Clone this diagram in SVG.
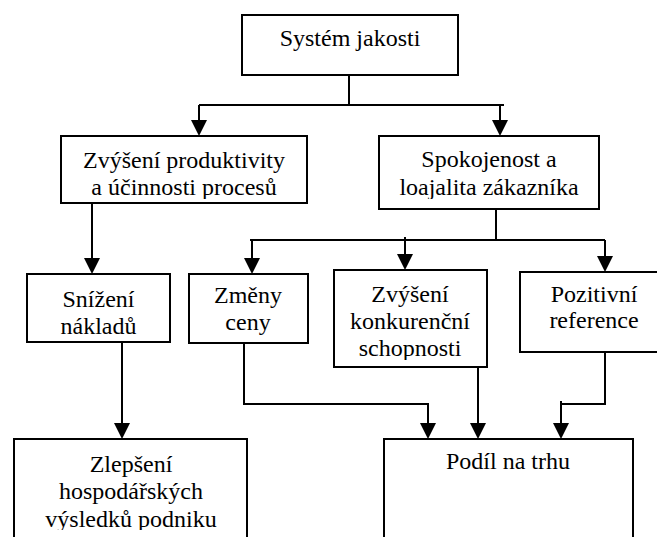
<svg xmlns="http://www.w3.org/2000/svg" width="657" height="537" viewBox="0 0 657 537" font-family="Liberation Serif">
  <style>
    .box { fill: #ffffff; stroke: #000000; stroke-width: 2; }
    .lbl { font-family: 'Liberation Serif'; font-size: 24px; fill: #000000; text-anchor: middle; }
    .wire { fill: none; stroke: #000000; stroke-width: 2; }
    .head { fill: #000000; stroke: none; }
  </style>
  <defs>
    <!-- text areas of the boxes; lines that run past them are cut off -->
    <clipPath id="clipLeft"><rect x="61" y="136" width="246" height="63"/></clipPath>
    <clipPath id="clipRight"><rect x="379" y="136" width="220" height="63"/></clipPath>
    <clipPath id="clipComp"><rect x="334" y="270" width="153" height="90"/></clipPath>
    <clipPath id="clipResult"><rect x="14" y="439" width="233" height="91"/></clipPath>
  </defs>
  <rect width="657" height="537" fill="#ffffff"/>

  <g id="connectors">
    <polyline class="wire" points="349,75 349,105"/>
    <polyline class="wire" points="199,105 504,105"/>
    <polyline class="wire" points="199,105 199,122"/>
    <polygon class="head" points="191,120 207,120 199,136"/>
    <polyline class="wire" points="500,105 500,122"/>
    <polygon class="head" points="492,120 508,120 500,136"/>

    <polyline class="wire" points="92,203 92,260"/>
    <polygon class="head" points="84,258 100,258 92,274"/>

    <polyline class="wire" points="496,209 496,240"/>
    <polyline class="wire" points="250,240 605,240"/>
    <polyline class="wire" points="252,240 252,260"/>
    <polygon class="head" points="244,258 260,258 252,274"/>
    <polyline class="wire" points="405,237 405,256"/>
    <polygon class="head" points="397,254 413,254 405,270"/>
    <polyline class="wire" points="605,240 605,258"/>
    <polygon class="head" points="597,256 613,256 605,272"/>

    <polyline class="wire" points="122,342 122,425"/>
    <polygon class="head" points="114,423 130,423 122,439"/>
    <polyline class="wire" points="244,343 244,404 428,404 428,425"/>
    <polygon class="head" points="420,423 436,423 428,439"/>
    <polyline class="wire" points="478,367 478,425"/>
    <polygon class="head" points="470,423 486,423 478,439"/>
    <polyline class="wire" points="605,352 605,404 561,404"/>
    <polyline class="wire" points="561,401 561,425"/>
    <polygon class="head" points="553,423 569,423 561,439"/>
  </g>

  <g id="quality-system">
    <rect class="box" x="242" y="15" width="216" height="60"/>
    <text class="lbl" x="350" y="46">Systém jakosti</text>
  </g>

  <g id="productivity">
    <rect class="box" x="61" y="136" width="246" height="67"/>
    <g clip-path="url(#clipLeft)">
      <text class="lbl" x="184" y="168">Zvýšení produktivity</text>
      <text class="lbl" x="184" y="195">a účinnosti procesů</text>
    </g>
  </g>

  <g id="satisfaction">
    <rect class="box" x="379" y="136" width="220" height="73"/>
    <g clip-path="url(#clipRight)">
      <text class="lbl" x="489" y="167">Spokojenost a</text>
      <text class="lbl" x="489" y="195">loajalita zákazníka</text>
    </g>
  </g>

  <g id="cost-reduction">
    <rect class="box" x="27" y="274" width="143" height="68"/>
    <text class="lbl" x="98.5" y="307">Snížení</text>
    <text class="lbl" x="98.5" y="334">nákladů</text>
  </g>

  <g id="price-changes">
    <rect class="box" x="189" y="274" width="119" height="69"/>
    <text class="lbl" x="248" y="303">Změny</text>
    <text class="lbl" x="248" y="330">ceny</text>
  </g>

  <g id="competitiveness">
    <rect class="box" x="334" y="270" width="153" height="97"/>
    <g clip-path="url(#clipComp)">
      <text class="lbl" x="410" y="302">Zvýšení</text>
      <text class="lbl" x="410" y="329">konkurenční</text>
      <text class="lbl" x="410" y="356">schopnosti</text>
    </g>
  </g>

  <g id="references">
    <rect class="box" x="520" y="272" width="148" height="80"/>
    <text class="lbl" x="594" y="302">Pozitivní</text>
    <text class="lbl" x="594" y="328">reference</text>
  </g>

  <g id="economic-results">
    <rect class="box" x="14" y="439" width="233" height="110"/>
    <g clip-path="url(#clipResult)">
      <text class="lbl" x="131" y="472">Zlepšení</text>
      <text class="lbl" x="131" y="499">hospodářských</text>
      <text class="lbl" x="131" y="527">výsledků podniku</text>
    </g>
  </g>

  <g id="market-share">
    <rect class="box" x="384" y="439" width="249" height="110"/>
    <text class="lbl" x="508" y="469">Podíl na trhu</text>
  </g>
</svg>
